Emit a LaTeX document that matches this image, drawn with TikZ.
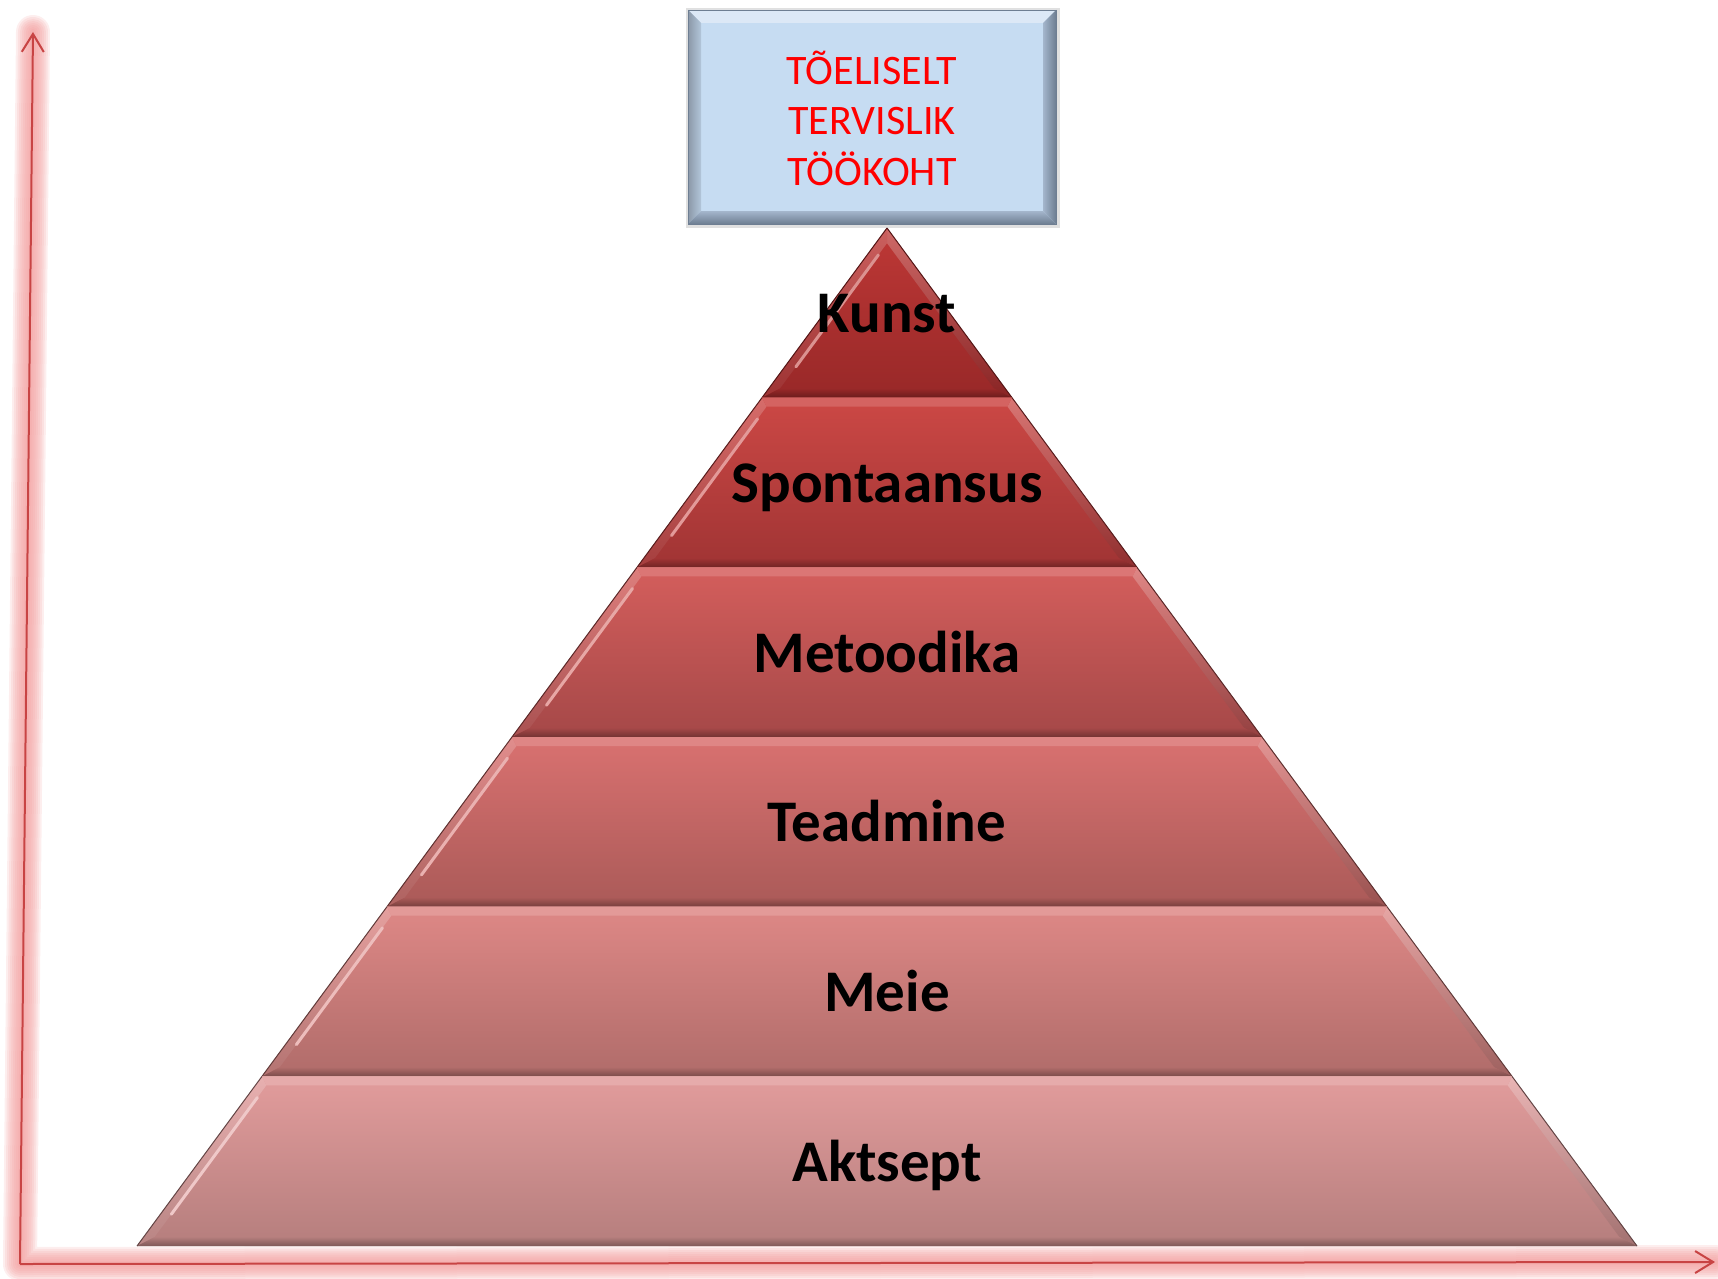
\documentclass[tikz,border=0pt]{standalone}
\usepackage{fontspec}
\setmainfont{Carlito}
\usetikzlibrary{arrows.meta,calc}

\definecolor{axisred}{HTML}{C84444}
\definecolor{axispink}{HTML}{F29A9A}
\definecolor{goalfill}{HTML}{C6DCF2}
\definecolor{goallight}{HTML}{DCE8F6}
\definecolor{goaldark}{HTML}{6E7E92}
\definecolor{goalmid}{HTML}{A4B6CC}
\definecolor{layAt}{HTML}{BE3836}
\definecolor{layAb}{HTML}{982828}
\definecolor{layBt}{HTML}{CC4845}
\definecolor{layBb}{HTML}{A03434}
\definecolor{layCt}{HTML}{D45E5C}
\definecolor{layCb}{HTML}{A54848}
\definecolor{layDt}{HTML}{D97170}
\definecolor{layDb}{HTML}{AA5A58}
\definecolor{layEt}{HTML}{DE8886}
\definecolor{layEb}{HTML}{B06C6A}
\definecolor{layFt}{HTML}{E29C9C}
\definecolor{layFb}{HTML}{B57E7D}

\begin{document}
\begin{tikzpicture}[x=1pt, y=-1pt,
	axisglow/.style={color=axispink, opacity=0.17, line cap=round, line join=round},
	axisline/.style={line width=2pt, color=axisred, -{Straight Barb[length=18pt,width=22pt,line width=2pt]}},
	layerlabel/.style={anchor=base, font=\fontsize{59}{70}\selectfont\bfseries},
	goaltext/.style={align=center, text=red, font=\fontsize{42}{50.5}\selectfont}]

	\useasboundingbox (0,0) rectangle (1718,1279);

	% axes
	\coordinate (O) at (20,1264);
	\coordinate (Y) at (33,32);
	\coordinate (X) at (1715,1262);
	\foreach \w in {34,30,...,6}
		\draw[axisglow, line width=\w pt] (Y) -- (O) -- (X);
	\draw[axisline] (O) -- (Y);
	\draw[axisline] (O) -- (X);

	% pyramid
	\foreach \i/\txt/\ct/\cb in {1/Kunst/layAt/layAb, 2/Spontaansus/layBt/layBb,
		3/Metoodika/layCt/layCb, 4/Teadmine/layDt/layDb,
		5/Meie/layEt/layEb, 6/Aktsept/layFt/layFb} {
		\pgfmathsetmacro\yt{228+(\i-1)*169.67}
		\pgfmathsetmacro\yb{\yt+169.67}
		\pgfmathsetmacro\wt{(\i-1)*125}
		\pgfmathsetmacro\wb{\i*125}
		\pgfmathsetmacro\yti{max(\yt+9,243.2)}
		\pgfmathsetmacro\ybi{\yb-9}
		\pgfmathsetmacro\wti{max(0.737*(\yti-228)-11.2,0)}
		\pgfmathsetmacro\wbi{0.737*(\ybi-228)-11.2}
		\coordinate (TL) at ({887-\wt},\yt);
		\coordinate (TR) at ({887+\wt},\yt);
		\coordinate (BL) at ({887-\wb},\yb);
		\coordinate (BR) at ({887+\wb},\yb);
		\coordinate (tl) at ({887-\wti},\yti);
		\coordinate (tr) at ({887+\wti},\yti);
		\coordinate (bl) at ({887-\wbi},\ybi);
		\coordinate (br) at ({887+\wbi},\ybi);
		\shade[top color=\ct, bottom color=\cb] (TL) -- (TR) -- (BR) -- (BL) -- cycle;
		\shade[top color=\ct!80!white, bottom color=\cb!95!white] (TL) -- (tl) -- (bl) -- (BL) -- cycle;
		\shade[top color=\ct!75!white, bottom color=\cb!90!black] (TR) -- (tr) -- (br) -- (BR) -- cycle;
		\draw[\ct!55!white, line width=3pt, line cap=round] ($(tl)!0.08!(bl)$) -- ($(tl)!0.85!(bl)$);
		\shade[top color=\cb, bottom color=\cb!70!black] (BL) -- (bl) -- (br) -- (BR) -- cycle;
		\fill[\ct!85!white] (TL) -- (TR) -- (tr) -- (tl) -- cycle;
		\draw[\cb!55!black, line width=1pt] (TL) -- (BL) (TR) -- (BR);
		\node[layerlabel] (lab\i) at (887,{\yt+104.8}) {\txt};
	}

	% goal box
	\fill[black, opacity=0.12] (686,8) rectangle (1060,228);
	\fill[goalfill] (688,10) rectangle (1056,224);
	\fill[goallight] (688,10) -- (1056,10) -- (1043,23) -- (701,23) -- cycle;
	\shade[left color=goaldark!80!white, right color=goalfill!90!black] (688,10) -- (701,23) -- (701,211) -- (688,224) -- cycle;
	\shade[left color=goalmid, right color=goaldark] (1056,10) -- (1043,23) -- (1043,211) -- (1056,224) -- cycle;
	\shade[top color=goalmid, bottom color=goaldark] (688,224) -- (701,211) -- (1043,211) -- (1056,224) -- cycle;
	\draw[goaldark, line width=0.8pt] (688,10) rectangle (1056,224);
	\node[goaltext] (goal) at (872,118) {TÕELISELT\\TERVISLIK\\TÖÖKOHT};
\end{tikzpicture}
\end{document}
